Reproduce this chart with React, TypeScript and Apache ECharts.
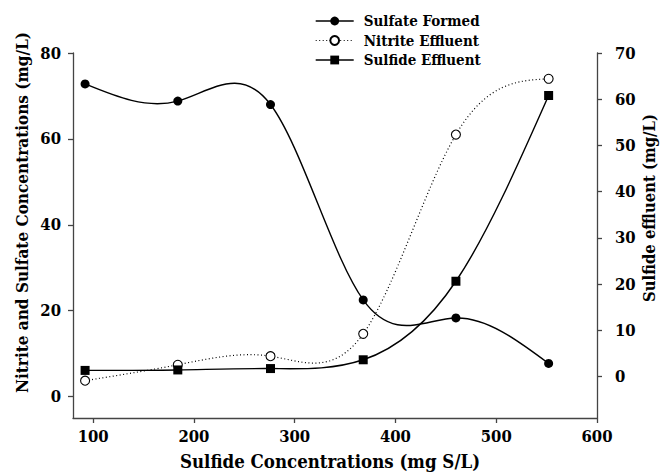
import React, { useEffect, useRef } from "react";
import * as echarts from "echarts";

const xValues = [92, 184, 276, 368, 460, 552];
const sulfateFormed = [72.8, 68.8, 68.0, 22.5, 18.3, 7.7];
const nitriteEffluent = [3.7, 7.4, 9.4, 14.6, 61.0, 74.0];
const sulfideEffluent = [1.3, 1.4, 1.7, 3.6, 20.6, 60.8];

const xTicks = [100, 200, 300, 400, 500, 600];
const leftTicks = [0, 20, 40, 60, 80];
const rightTicks = [0, 10, 20, 30, 40, 50, 60, 70];

const seriesNames = ["Sulfate Formed", "Nitrite Effluent", "Sulfide Effluent"];

const FONT = "DejaVu Serif Condensed";

// natural cubic spline slopes at the knots
function splineSlopes(xs: number[], ys: number[]): number[] {
  const n = xs.length;
  const h: number[] = [];
  for (let i = 0; i < n - 1; i++) h.push(xs[i + 1] - xs[i]);
  const M = new Array(n).fill(0);
  if (n > 2) {
    const a: number[] = [], b: number[] = [], c: number[] = [], d: number[] = [];
    for (let i = 1; i < n - 1; i++) {
      a.push(h[i - 1]);
      b.push(2 * (h[i - 1] + h[i]));
      c.push(h[i]);
      d.push(6 * ((ys[i + 1] - ys[i]) / h[i] - (ys[i] - ys[i - 1]) / h[i - 1]));
    }
    const m = b.length;
    const cp = new Array(m).fill(0);
    const dp = new Array(m).fill(0);
    cp[0] = c[0] / b[0];
    dp[0] = d[0] / b[0];
    for (let i = 1; i < m; i++) {
      const den = b[i] - a[i] * cp[i - 1];
      cp[i] = c[i] / den;
      dp[i] = (d[i] - a[i] * dp[i - 1]) / den;
    }
    const sol = new Array(m).fill(0);
    sol[m - 1] = dp[m - 1];
    for (let i = m - 2; i >= 0; i--) sol[i] = dp[i] - cp[i] * sol[i + 1];
    for (let i = 0; i < m; i++) M[i + 1] = sol[i];
  }
  const s: number[] = [];
  for (let i = 0; i < n - 1; i++) {
    s.push((ys[i + 1] - ys[i]) / h[i] - (h[i] * (2 * M[i] + M[i + 1])) / 6);
  }
  s.push((ys[n - 1] - ys[n - 2]) / h[n - 2] + (h[n - 2] * (M[n - 2] + 2 * M[n - 1])) / 6);
  return s;
}

function curveSeries(ys: number[], yAxisIndex: number, dash: number[] | null) {
  const slopes = splineSlopes(xValues, ys);
  const n = xValues.length;
  return {
    type: "custom",
    yAxisIndex,
    silent: true,
    z: 1,
    data: xValues.map((x, i) => [x, ys[i]]),
    encode: { x: 0, y: 1 },
    renderItem: (params: any, api: any) => {
      const i = params.dataIndex;
      if (i >= n - 1) return { type: "group", children: [] };
      const x0 = xValues[i], x1 = xValues[i + 1];
      const y0 = ys[i], y1 = ys[i + 1];
      const h = x1 - x0;
      const p0 = api.coord([x0, y0]);
      const p1 = api.coord([x1, y1]);
      const c0 = api.coord([x0 + h / 3, y0 + (h / 3) * slopes[i]]);
      const c1 = api.coord([x1 - h / 3, y1 - (h / 3) * slopes[i + 1]]);
      return {
        type: "bezierCurve",
        shape: {
          x1: p0[0], y1: p0[1], x2: p1[0], y2: p1[1],
          cpx1: c0[0], cpy1: c0[1], cpx2: c1[0], cpy2: c1[1],
        },
        style: {
          stroke: "#000",
          lineWidth: dash ? 1.2 : 1.4,
          lineDash: dash || undefined,
          fill: null,
        },
      };
    },
  };
}

export default function App() {
  const ref = useRef<HTMLDivElement>(null);
  useEffect(() => {
    if (!ref.current) return;
    const chart = echarts.init(ref.current, undefined, { renderer: "svg" });
    const axisLine = { show: true, onZero: false, lineStyle: { color: "#444", width: 1.3 } };
    const axisTick = { show: true, inside: false, length: 5, lineStyle: { color: "#444", width: 1.3 } };
    const labelStyle = { fontFamily: FONT, fontWeight: "bold" as const, fontSize: 16.5, color: "#000" };
    const nameStyle = { fontFamily: FONT, fontWeight: "bold" as const, fontSize: 17, color: "#000" };
    chart.setOption({
      animation: false,
      backgroundColor: "#fff",
      textStyle: { fontFamily: FONT },
      grid: { left: 73, right: 63, top: 53, bottom: 56, containLabel: false, outerBoundsMode: "none" },
      legend: {
        orient: "vertical",
        left: 315,
        top: 13.5,
        padding: 0,
        itemWidth: 38,
        itemHeight: 11,
        itemGap: 4.5,
        textStyle: { fontFamily: FONT, fontWeight: "bold", fontSize: 15, color: "#000", padding: [0, 0, 0, 5] },
        data: [
          { name: seriesNames[0], lineStyle: { opacity: 1, width: 1.4, color: "#000", type: "solid" } },
          { name: seriesNames[1], lineStyle: { opacity: 1, width: 1.2, color: "#000", type: [1, 2.5] } },
          { name: seriesNames[2], lineStyle: { opacity: 1, width: 1.4, color: "#000", type: "solid" } },
        ],
      },
      xAxis: {
        type: "value",
        min: 80,
        max: 600,
        name: "Sulfide Concentrations (mg S/L)",
        nameLocation: "middle",
        nameGap: 34,
        nameMoveOverlap: false,
        nameTextStyle: { ...nameStyle, fontSize: 18.5, padding: [0, 10, 0, 0] },
        axisLine,
        axisTick: { ...axisTick, customValues: xTicks },
        axisLabel: { ...labelStyle, margin: 10, customValues: xTicks },
        splitLine: { show: false },
      },
      yAxis: [
        {
          type: "value",
          position: "left",
          min: -5,
          max: 80,
          name: "Nitrite and Sulfate Concentrations (mg/L)",
          nameLocation: "middle",
          nameGap: 43,
          nameMoveOverlap: false,
          nameTextStyle: { ...nameStyle, padding: [0, 0, 0, 46] },
          axisLine,
          axisTick: { ...axisTick, customValues: leftTicks },
          axisLabel: { ...labelStyle, margin: 12, customValues: leftTicks },
          splitLine: { show: false },
        },
        {
          type: "value",
          position: "right",
          min: -9,
          max: 70,
          name: "Sulfide effluent (mg/L)",
          nameLocation: "middle",
          nameGap: 44,
          nameMoveOverlap: false,
          nameTextStyle: { ...nameStyle, fontSize: 16.5, padding: [0, 0, 0, 55] },
          axisLine,
          axisTick: { ...axisTick, customValues: rightTicks },
          axisLabel: { ...labelStyle, margin: 18, customValues: rightTicks },
          splitLine: { show: false },
        },
      ],
      series: [
        curveSeries(sulfateFormed, 0, null),
        curveSeries(nitriteEffluent, 0, [1, 2.5]),
        curveSeries(sulfideEffluent, 1, null),
        {
          type: "line",
          name: seriesNames[0],
          yAxisIndex: 0,
          data: xValues.map((x, i) => [x, sulfateFormed[i]]),
          symbol: "circle",
          symbolSize: 9,
          itemStyle: { color: "#000" },
          lineStyle: { opacity: 0, color: "#000" },
          z: 3,
        },
        {
          type: "line",
          name: seriesNames[1],
          yAxisIndex: 0,
          data: xValues.map((x, i) => [x, nitriteEffluent[i]]),
          symbol: "circle",
          symbolSize: 9,
          itemStyle: { color: "#fff", borderColor: "#000", borderWidth: 1.1 },
          lineStyle: { opacity: 0, color: "#000" },
          z: 3,
        },
        {
          type: "line",
          name: seriesNames[2],
          yAxisIndex: 1,
          data: xValues.map((x, i) => [x, sulfideEffluent[i]]),
          symbol: "rect",
          symbolSize: 9,
          itemStyle: { color: "#000" },
          lineStyle: { opacity: 0, color: "#000" },
          z: 3,
        },
      ],
    });
    return () => chart.dispose();
  }, []);
  return <div ref={ref} style={{ width: 660, height: 474, position: "absolute", left: 0, top: 0 }} />;
}
